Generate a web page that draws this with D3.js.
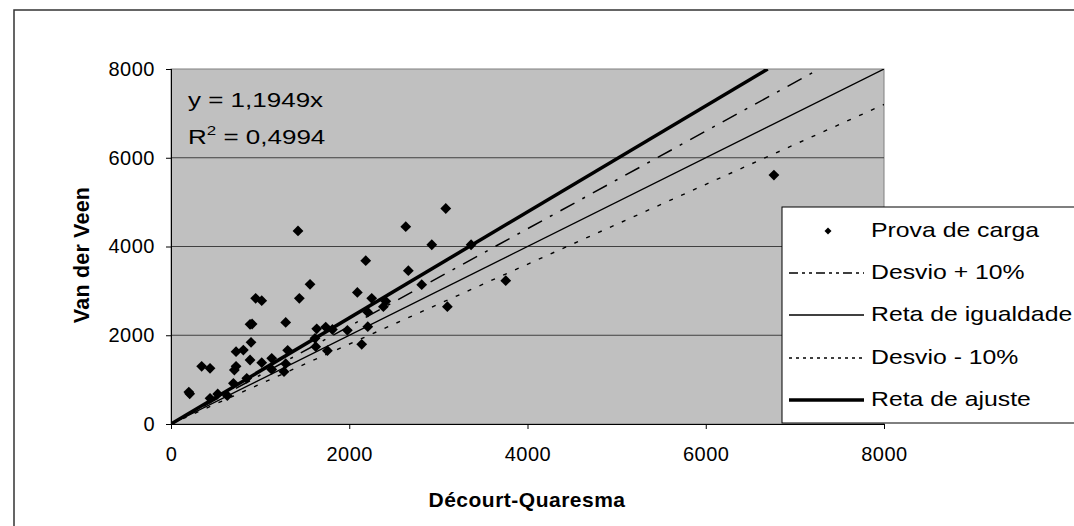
<!DOCTYPE html>
<html><head><meta charset="utf-8">
<script src="https://cdn.jsdelivr.net/npm/d3@7"></script>
<style>html,body{margin:0;padding:0;background:#fff;overflow:hidden}svg{display:block;font-family:Arial,"Liberation Sans",sans-serif}</style>
</head><body>
<svg id="c" width="1074" height="526"></svg>
<script>
// Data: Décourt-Quaresma (x) vs Van der Veen (y)
const provaX = [200,210,344,438,438,524,632,700,711,730,730,812,850,887,898,887,910,950,1018,1018,1130,1130,1287,1309,1287,1268,1440,1560,1616,1635,1624,1736,1811,1755,1979,2091,2185,2252,2208,2208,2140,2383,2410,2663,2926,2813,3367,3101,3756,1425,2634,3083,6765];
const provaY = [720,680,1300,1255,579,676,638,917,1217,1300,1630,1667,1029,1442,1840,2246,2253,2832,2779,1382,1480,1230,2290,1660,1360,1179,2832,3148,1931,2145,1742,2185,2130,1652,2110,2965,3680,2832,2193,2520,1796,2643,2765,3455,4040,3140,4040,2643,3229,4350,4446,4856,5610];
const ajusteX = [0, 6695];   const ajusteY = [0, 8000];   // y = 1,1949x
const plusX   = [0, 7273];   const plusY   = [0, 8000];   // +10%
const igualX  = [0, 8000];   const igualY  = [0, 8000];
const minusX  = [0, 8000];   const minusY  = [0, 7200];   // -10%
const xTicks = [0, 2000, 4000, 6000, 8000];
const yTicks = [0, 2000, 4000, 6000, 8000];
const legendLabels = ["Prova de carga", "Desvio + 10%", "Reta de igualdade", "Desvio - 10%", "Reta de ajuste"];
const eqLine1 = "y = 1,1949x";
const eqR2 = "0,4994";

const svg = d3.select("#c");
const x = d3.scaleLinear().domain([0, 8000]).range([171, 884]);
const y = d3.scaleLinear().domain([0, 8000]).range([424, 69]);

// outer chart border
svg.append("path").attr("d", "M14,540 L14,10 L1090,10").attr("fill", "none").attr("stroke", "#333").attr("stroke-width", 1.5);

// plot area
svg.append("rect").attr("x", 171).attr("y", 69).attr("width", 884 - 171).attr("height", 424 - 69)
  .attr("fill", "#c0c0c0").attr("stroke", "#808080").attr("stroke-width", 1);

// gridlines
svg.append("g").selectAll("line").data(yTicks.filter(d => d > 0 && d < 8000)).join("line")
  .attr("x1", 171).attr("x2", 884).attr("y1", d => y(d)).attr("y2", d => y(d))
  .attr("stroke", "#404040").attr("stroke-width", 1);

// axes
const yAxis = d3.axisLeft(y).tickValues(yTicks).tickSize(5).tickPadding(11).tickFormat(d3.format("d"));
const xAxis = d3.axisBottom(x).tickValues(xTicks).tickSize(5).tickPadding(18).tickFormat(d3.format("d"));
const gy = svg.append("g").attr("transform", "translate(171,0)").call(yAxis);
const gx = svg.append("g").attr("transform", "translate(0,424)").call(xAxis);
[gy, gx].forEach(g => {
  g.select(".domain").attr("stroke", "#000").attr("stroke-width", 1);
  g.selectAll(".tick line").attr("stroke", "#000");
  g.selectAll("text").attr("font-size", 20).attr("fill", "#000").attr("font-family", "Arial, 'Liberation Sans', sans-serif").attr("letter-spacing", 0.5);
});
gx.select(".domain").attr("d", "M171,0.5H884");
gy.select(".domain").attr("d", "M0.5,69V424");

// clip
svg.append("clipPath").attr("id", "clip").append("rect").attr("x", 171).attr("y", 69).attr("width", 713).attr("height", 355);
const plot = svg.append("g").attr("clip-path", "url(#clip)");
const line = d3.line().x(d => x(d[0])).y(d => y(d[1]));
const series = [
  { xs: minusX, ys: minusY, w: 1.4, dash: "4,9" },
  { xs: igualX, ys: igualY, w: 1.3, dash: null },
  { xs: plusX, ys: plusY, w: 1.5, dash: "16,9,3,9" },
  { xs: ajusteX, ys: ajusteY, w: 3.5, dash: null }
];
series.forEach(s => {
  plot.append("path").datum(s.xs.map((v, i) => [v, s.ys[i]])).attr("d", line)
    .attr("fill", "none").attr("stroke", "#000").attr("stroke-width", s.w)
    .attr("stroke-dasharray", s.dash);
});

// points
const diamond = r => `M0,${-r}L${r},0L0,${r}L${-r},0Z`;
plot.append("g").selectAll("path").data(provaX.map((v, i) => [v, provaY[i]])).join("path")
  .attr("transform", d => `translate(${x(d[0])},${y(d[1])})`)
  .attr("d", diamond(5.4)).attr("fill", "#000");

// equation (text horizontally widened as in the reference)
const eq = svg.append("g").attr("font-size", 20).attr("fill", "#000");
eq.append("text").attr("transform", "translate(188,107) scale(1.3,1)").text(eqLine1);
const t2 = eq.append("text").attr("transform", "translate(188,144) scale(1.3,1)");
t2.append("tspan").text("R");
t2.append("tspan").attr("font-size", 13).attr("dy", -9).text("2");
t2.append("tspan").attr("dy", 9).text(" = " + eqR2);

// axis titles
svg.append("text").attr("x", 527).attr("y", 507).attr("text-anchor", "middle")
  .attr("font-size", 21).attr("font-weight", "bold").attr("letter-spacing", 0.5).text("Décourt-Quaresma");
svg.append("text").attr("transform", "translate(89,255) rotate(-90)").attr("text-anchor", "middle")
  .attr("font-size", 21.5).attr("font-weight", "bold").attr("letter-spacing", 0.2).text("Van der Veen");

// legend
const lg = svg.append("g");
lg.append("rect").attr("x", 782).attr("y", 207).attr("width", 320).attr("height", 216)
  .attr("fill", "#fff").attr("stroke", "#000").attr("stroke-width", 1);
const rowBase = [237, 279, 321, 364, 406];
const legStyles = [
  null,
  { w: 1.5, dash: "9,4,3,4,3,4" },
  { w: 1.3, dash: null },
  { w: 1.4, dash: "3,4" },
  { w: 3.5, dash: null }
];
legendLabels.forEach((lab, i) => {
  const cy = rowBase[i] - 6;
  if (i === 0) {
    lg.append("path").attr("transform", `translate(828,${cy})`).attr("d", diamond(3.5)).attr("fill", "#000");
  } else {
    lg.append("line").attr("x1", 789).attr("x2", 864).attr("y1", cy).attr("y2", cy)
      .attr("stroke", "#000").attr("stroke-width", legStyles[i].w).attr("stroke-dasharray", legStyles[i].dash);
  }
  lg.append("text").attr("transform", `translate(871,${rowBase[i]}) scale(1.24,1)`).attr("font-size", 20).text(lab);
});
</script>
</body></html>
